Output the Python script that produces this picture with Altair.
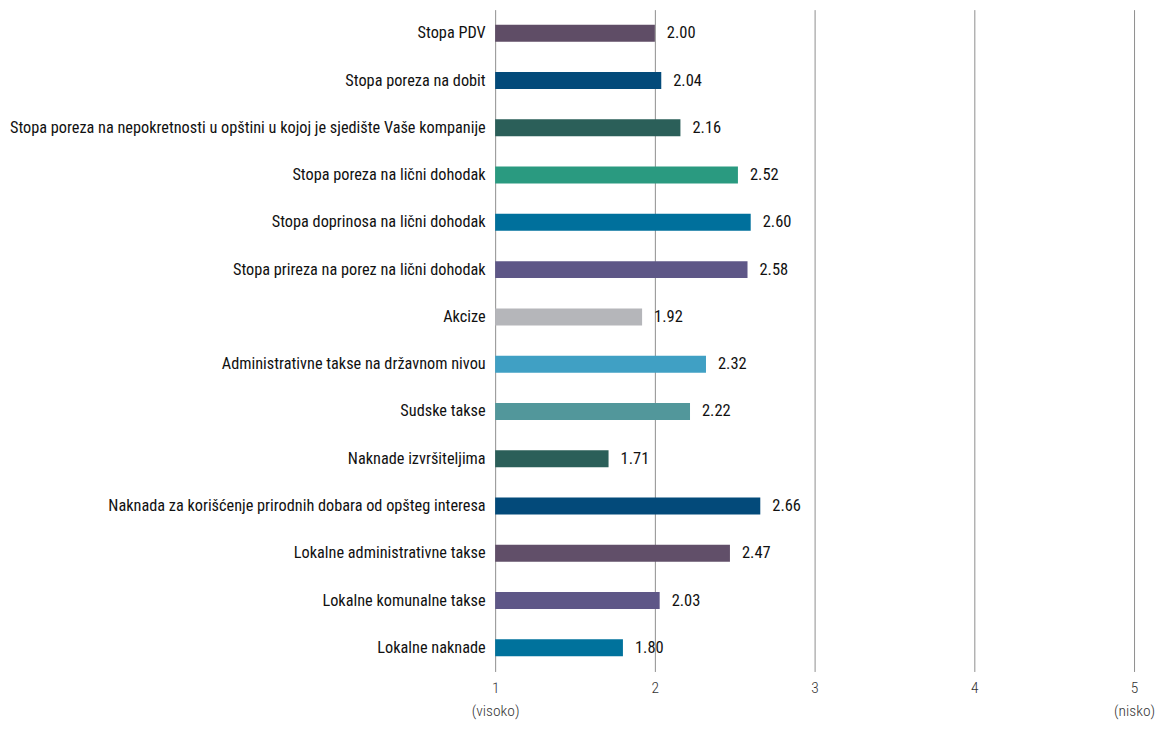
import altair as alt
import pandas as pd

categories = [
    "Stopa PDV\u00a0",
    "Stopa poreza na dobit",
    "Stopa poreza na nepokretnosti u opštini u kojoj je sjedište Vaše kompanije",
    "Stopa poreza na lični dohodak",
    "Stopa doprinosa na lični dohodak",
    "Stopa prireza na porez na lični dohodak\u00a0",
    "Akcize",
    "Administrativne takse na državnom nivou\u00a0",
    "Sudske takse",
    "Naknade izvršiteljima\u00a0",
    "Naknada za korišćenje prirodnih dobara od opšteg interesa",
    "Lokalne administrativne takse",
    "Lokalne komunalne takse",
    "Lokalne naknade",
]
values = [2.00, 2.04, 2.16, 2.52, 2.60, 2.58, 1.92, 2.32, 2.22, 1.71, 2.66, 2.47, 2.03, 1.80]
colors = ["#5f4d66", "#034a7a", "#2b5f59", "#2a9a80", "#00709c", "#5e5787", "#b5b6ba",
          "#40a0c4", "#52979b", "#2b5f59", "#034a7a", "#614f69", "#5e5787", "#00729c"]
tick_values = [1, 2, 3, 4, 5]

df = pd.DataFrame({"cat": categories, "val": values, "col": colors,
                   "lbl": [f"{v:.2f}" for v in values]})

FONT = "Roboto Condensed, Liberation Sans Narrow, DejaVu Sans Condensed, sans-serif"

y = alt.Y("cat:N", sort=categories, title=None,
          scale=alt.Scale(paddingInner=0.64, paddingOuter=0.32),
          axis=alt.Axis(domain=False, ticks=False, labelPadding=10, labelFontSize=16.3,
                        labelFont=FONT, labelColor="#111111", labelLimit=600,
                        grid=False))
x = alt.X("val:Q", title=None,
          scale=alt.Scale(domain=[1, 5], nice=False, zero=False),
          axis=alt.Axis(values=tick_values, domain=False, ticks=False, grid=True,
                        gridColor="#8f8f8f", gridWidth=1, labelPadding=9,
                        labelFont=FONT, labelFontSize=15.5, labelFontWeight=300,
                        labelColor="#333333",
                        labelLineHeight=23, labelFlush=False,
                        labelExpr="datum.value == 1 ? ['1', '(visoko)'] : datum.value == 5 ? ['5', '(nisko)'] : '' + datum.value"))

base = alt.Chart(df)
bars = base.mark_bar(size=17).encode(
    y=y, x=x, x2=alt.datum(1),
    color=alt.Color("col:N", scale=None, legend=None),
)
texts = base.mark_text(align="left", baseline="middle", dx=12, font=FONT,
                       fontSize=16.5, fontWeight=400, color="#111111").encode(
    y=alt.Y("cat:N", sort=categories), x="val:Q", text="lbl:N"
)

chart = (bars + texts).properties(
    width=640, height=663,
    autosize=alt.AutoSizeParams(type="none"),
    padding={"left": 488, "top": 1, "right": 23, "bottom": 54},
).configure_view(stroke=None)

chart.save("out.html", embed_options={"renderer": "svg", "actions": False})
